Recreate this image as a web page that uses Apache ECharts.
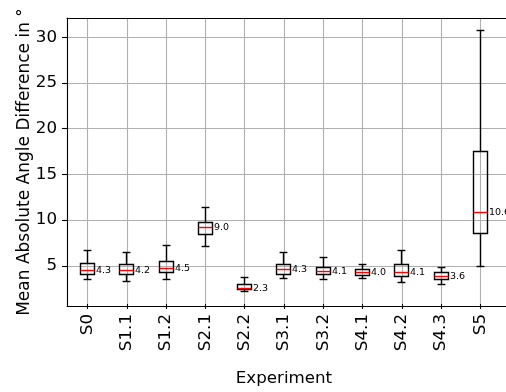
<!DOCTYPE html>
<html>
<head>
<meta charset="utf-8">
<script src="https://cdn.jsdelivr.net/npm/echarts@6/dist/echarts.min.js"></script>
<style>html,body{margin:0;padding:0;background:#fff}#c{width:506px;height:392px}</style>
</head>
<body>
<div id="c"></div>
<script>
const categories = ['S0','S1.1','S1.2','S2.1','S2.2','S3.1','S3.2','S4.1','S4.2','S4.3','S5'];
const whiskerLow  = [3.3, 3.05, 3.35, 6.95, 2.0, 3.4, 3.35, 3.45, 3.0, 2.75, 4.7];
const q1          = [3.9, 3.85, 4.05, 8.3, 2.2, 3.9, 3.85, 3.75, 3.65, 3.35, 8.35];
const median      = [4.3, 4.25, 4.5, 9.0, 2.35, 4.4, 4.2, 4.05, 4.1, 3.6, 10.65];
const q3          = [5.05, 4.93, 5.25, 9.55, 2.75, 4.9, 4.65, 4.35, 4.9, 4.05, 17.35];
const whiskerHigh = [6.5, 6.25, 7.0, 11.2, 3.5, 6.3, 5.75, 5.0, 6.45, 4.65, 30.7];
const boxLabels   = ['4.3','4.2','4.5','9.0','2.3','4.3','4.1','4.0','4.1','3.6','10.6'];
const yTicks      = [5, 10, 15, 20, 25, 30];
const yMin = 0.6, yMax = 32.1;

const FONT = 'DejaVu Sans';
const data = categories.map((c, i) => [i, whiskerLow[i], q1[i], median[i], q3[i], whiskerHigh[i]]);

function crisp(v) { return Math.round(v - 0.5) + 0.5; }

function renderItem(params, api) {
  const i = api.value(0);
  const band = api.size([1, 0])[0];
  const hb = band * 0.16, hc = band * 0.1;
  const pLo = api.coord([i, api.value(1)]);
  const pQ1 = api.coord([i, api.value(2)]);
  const pMed = api.coord([i, api.value(3)]);
  const pQ3 = api.coord([i, api.value(4)]);
  const pHi = api.coord([i, api.value(5)]);
  const x = crisp(pMed[0]);
  const yLo = crisp(pLo[1]), yQ1 = crisp(pQ1[1]), yMed = crisp(pMed[1]), yQ3 = crisp(pQ3[1]), yHi = crisp(pHi[1]);
  const bl = Math.round(x - hb) - 0.5, br = Math.round(x + hb) + 0.5;
  const line = { stroke: '#000', lineWidth: 1.4, fill: null };
  return {
    type: 'group',
    children: [
      { type: 'line', shape: { x1: x, y1: yQ3, x2: x, y2: yHi }, style: line },
      { type: 'line', shape: { x1: x, y1: yQ1, x2: x, y2: yLo }, style: line },
      { type: 'line', shape: { x1: x - hc, y1: yHi, x2: x + hc, y2: yHi }, style: line },
      { type: 'line', shape: { x1: x - hc, y1: yLo, x2: x + hc, y2: yLo }, style: line },
      { type: 'rect', shape: { x: bl, y: yQ3, width: br - bl, height: yQ1 - yQ3 }, style: { stroke: '#000', lineWidth: 1.4, fill: null } },
      { type: 'line', shape: { x1: bl, y1: yMed, x2: br, y2: yMed }, style: { stroke: '#ff0000', lineWidth: 1.4 } },
      { type: 'text', style: { text: boxLabels[i], x: br + 1.5, y: pMed[1], verticalAlign: 'middle', align: 'left', fontSize: 9.5, fontFamily: FONT, fill: '#000' } }
    ]
  };
}

const chart = echarts.init(document.getElementById('c'), null, { renderer: 'canvas' });
chart.setOption({
  animation: false,
  backgroundColor: '#fff',
  grid: [
    { left: 67, top: 18, right: -40, bottom: 86, containLabel: false },
    { left: 87.6, top: 18, width: 392.7, bottom: 86, containLabel: false }
  ],
  xAxis: [
    { gridIndex: 0, type: 'value', position: 'bottom', min: 0, max: 1,
      axisLine: { show: true, onZero: false, lineStyle: { color: '#000', width: 1.1 } },
      axisTick: { show: false }, axisLabel: { show: false }, splitLine: { show: false } },
    { gridIndex: 0, type: 'value', position: 'top', min: 0, max: 1,
      axisLine: { show: true, onZero: false, lineStyle: { color: '#000', width: 1.1 } },
      axisTick: { show: false }, axisLabel: { show: false }, splitLine: { show: false } },
    { gridIndex: 1, type: 'category', data: categories, boundaryGap: false, position: 'bottom',
      name: 'Experiment', nameLocation: 'middle', nameGap: 66, nameMoveOverlap: false,
      nameTextStyle: { fontSize: 16.7, fontFamily: FONT, color: '#000' },
      axisLine: { show: false },
      axisTick: { show: true, length: 5, inside: false, lineStyle: { color: '#000', width: 1.1 } },
      axisLabel: { rotate: 90, fontSize: 16.7, fontFamily: FONT, color: '#000', margin: 10, interval: 0 },
      splitLine: { show: true, interval: 0, lineStyle: { color: '#b0b0b0', width: 1.1 } } }
  ],
  yAxis: [
    { gridIndex: 0, type: 'value', min: yMin, max: yMax, splitNumber: 6,
      name: 'Mean Absolute Angle Difference in °', nameLocation: 'middle', nameGap: 34, nameMoveOverlap: false,
      nameTextStyle: { fontSize: 17, fontFamily: FONT, color: '#000' },
      axisLine: { show: true, onZero: false, lineStyle: { color: '#000', width: 1.1 } },
      axisTick: { show: true, length: 5, customValues: yTicks, lineStyle: { color: '#000', width: 1.1 } },
      axisLabel: { fontSize: 16.7, fontFamily: FONT, color: '#000', margin: 10, customValues: yTicks },
      splitLine: { show: true, lineStyle: { color: '#b0b0b0', width: 1.1 } } },
    { gridIndex: 1, type: 'value', min: yMin, max: yMax, show: false, splitLine: { show: false } }
  ],
  series: [
    { type: 'custom', xAxisIndex: 2, yAxisIndex: 1, renderItem: renderItem, data: data, clip: false, z: 5 }
  ]
});
</script>
</body>
</html>
